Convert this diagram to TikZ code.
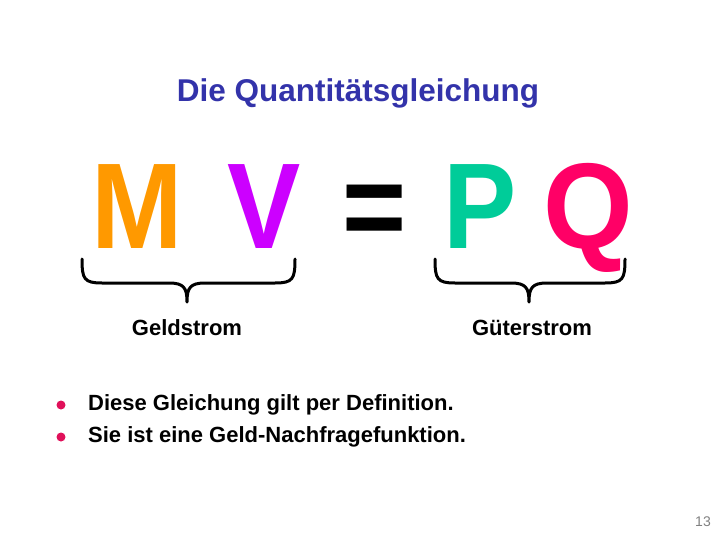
\documentclass[tikz,border=0pt]{standalone}
\usepackage{fontspec}
\setmainfont{Liberation Sans}
\definecolor{titleblue}{HTML}{3333AA}
\definecolor{cM}{HTML}{FF9900}
\definecolor{cV}{HTML}{CC00FF}
\definecolor{cP}{HTML}{00CC99}
\definecolor{cQ}{HTML}{FF0066}
\definecolor{bul}{HTML}{E0105A}
\tikzset{
  big/.style={font=\fontsize{122}{122}\selectfont\bfseries, inner sep=0pt, anchor=base, xscale=0.9},
  lbl/.style={font=\fontsize{22}{26}\selectfont\bfseries, inner sep=0pt},
  brc/.style={line width=3pt, line cap=round, line join=round},
  dot/.style={circle, fill=bul, inner sep=0pt, minimum size=9pt}
}
\begin{document}
\begin{tikzpicture}[x=1pt,y=-1pt]
\useasboundingbox (0,0) rectangle (720,540);
\node[font=\fontsize{31.5}{36}\selectfont\bfseries, text=titleblue] (title) at (358,93) {Die Quantitätsgleichung};
\node[big, text=cM] (M) at (137,248) {M};
\node[big, text=cV] (V) at (264,248) {V};
\node[big, text=black] (eq) at (375,248) {=};
\node[big, text=cP] (P) at (480,248) {P};
\node[big, text=cQ, xscale=1.05] (Q) at (588,248) {Q};
\coordinate (b1a) at (82,259); \coordinate (b1t) at (187,302); \coordinate (b1b) at (295,259);
\coordinate (b2a) at (435,259); \coordinate (b2t) at (529,302); \coordinate (b2b) at (625,259);
\foreach \a/\t/\b in {b1a/b1t/b1b, b2a/b2t/b2b}{
  \draw[brc] (\a) .. controls ([yshift=-20pt]\a) and ([xshift=2pt,yshift=-24pt]\a) .. ([xshift=20pt,yshift=-24pt]\a)
    -- ([xshift=-18pt,yshift=19pt]\t) .. controls ([xshift=-3pt,yshift=19pt]\t) and ([yshift=14pt]\t) .. (\t)
    .. controls ([yshift=14pt]\t) and ([xshift=3pt,yshift=19pt]\t) .. ([xshift=18pt,yshift=19pt]\t)
    -- ([xshift=-20pt,yshift=-24pt]\b) .. controls ([xshift=-2pt,yshift=-24pt]\b) and ([yshift=-20pt]\b) .. (\b);
}
\node[lbl] (geld) at (187,328) {Geldstrom};
\node[lbl] (gut) at (532,328) {Güterstrom};
\node[dot] (d1) at (61,405) {};
\node[dot] (d2) at (61,437) {};
\node[lbl, anchor=west] (t1) at (88,405) {Diese Gleichung gilt per Definition.};
\node[lbl, anchor=west] (t2) at (88,437) {Sie ist eine Geld-Nachfragefunktion.};
\node[font=\fontsize{14}{16}\selectfont, text=gray] (pg) at (703,522) {13};
\end{tikzpicture}
\end{document}
